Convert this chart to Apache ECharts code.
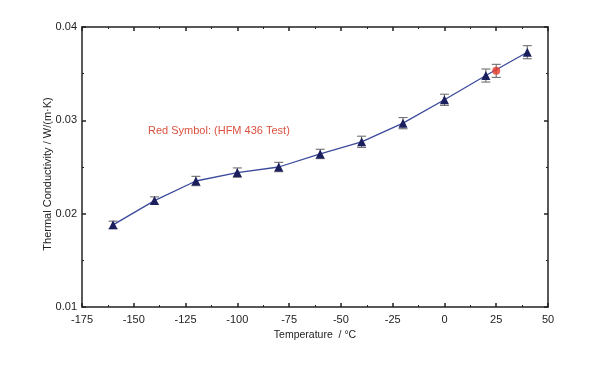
<!DOCTYPE html>
<html><head><meta charset="utf-8">
<script src="https://cdn.jsdelivr.net/npm/echarts@6/dist/echarts.min.js"></script>
<style>html,body{margin:0;padding:0;background:#fff}#c{width:600px;height:369px}</style>
</head><body><div id="c"></div>
<script>
const temps = [-160, -140, -120, -100, -80, -60, -40, -20, 0, 20, 40];
const conductivity = [0.0188, 0.0214, 0.0235, 0.0244, 0.0250, 0.0264, 0.0277, 0.0297, 0.0322, 0.0348, 0.0373];
const errors = [0.0004, 0.0004, 0.0005, 0.0005, 0.0005, 0.0005, 0.0006, 0.0006, 0.0006, 0.0007, 0.0007];
const hfmTemp = [25];
const hfmValue = [0.0353];
const hfmError = [0.0007];
const annotation = 'Red Symbol: (HFM 436 Test)';
const xTitle = 'Temperature  / °C';
const yTitle = 'Thermal Conductivity / W/(m·K)';

const font = 'Liberation Sans, Arial, sans-serif';
const chart = echarts.init(document.getElementById('c'));

const errData = temps.map((t, i) => [t, conductivity[i] - errors[i], conductivity[i] + errors[i]])
  .concat(hfmTemp.map((t, i) => [t, hfmValue[i] - hfmError[i], hfmValue[i] + hfmError[i]]));

function errRender(params, api) {
  const x = api.value(0);
  const lo = api.coord([x, api.value(1)]);
  const hi = api.coord([x, api.value(2)]);
  const w = 4.5;
  const st = { stroke: '#6f6f6f', lineWidth: 1.1 };
  return { type: 'group', children: [
    { type: 'line', shape: { x1: lo[0], y1: lo[1], x2: hi[0], y2: hi[1] }, style: st },
    { type: 'line', shape: { x1: lo[0] - w, y1: lo[1], x2: lo[0] + w, y2: lo[1] }, style: st },
    { type: 'line', shape: { x1: hi[0] - w, y1: hi[1], x2: hi[0] + w, y2: hi[1] }, style: st }
  ]};
}

const axisLine = { show: true, onZero: false, lineStyle: { color: '#222', width: 1.5 } };
const tick = { inside: true, length: 4, lineStyle: { color: '#222', width: 1.5 } };
const minor = { show: true, splitNumber: 2, length: 2, lineStyle: { color: '#222' } };
chart.setOption({
  animation: false,
  backgroundColor: '#fff',
  grid: { left: 82, right: 52, top: 27, bottom: 62 },
  xAxis: [{
    type: 'value', min: -175, max: 50, interval: 25, position: 'bottom',
    name: xTitle, nameLocation: 'middle', nameGap: 14,
    nameTextStyle: { fontFamily: font, fontSize: 10.5, color: '#222' },
    axisLine: axisLine, axisTick: tick, minorTick: minor,
    axisLabel: { fontFamily: font, fontSize: 11, color: '#222', margin: 7 },
    splitLine: { show: false }
  }, {
    type: 'value', min: -175, max: 50, interval: 25, position: 'top',
    axisLine: axisLine, axisTick: tick, minorTick: minor,
    axisLabel: { show: false }, splitLine: { show: false }
  }],
  yAxis: [{
    type: 'value', min: 0.01, max: 0.04, interval: 0.01, position: 'left',
    axisLine: axisLine, axisTick: tick, minorTick: minor,
    axisLabel: { fontFamily: font, fontSize: 11, color: '#222', margin: 5, formatter: v => v.toFixed(2) },
    splitLine: { show: false }
  }, {
    type: 'value', min: 0.01, max: 0.04, interval: 0.01, position: 'right',
    axisLine: axisLine, axisTick: tick, minorTick: minor,
    axisLabel: { show: false }, splitLine: { show: false }
  }],
  graphic: [{
    type: 'text', left: 148, top: 125,
    style: { text: annotation, fill: '#d9513f', font: '11px ' + font }
  }, {
    type: 'text', x: 47.5, y: 174, rotation: Math.PI / 2,
    style: { text: yTitle, fill: '#222', font: '11px ' + font, align: 'center', verticalAlign: 'middle' }
  }],
  series: [{
    type: 'custom', renderItem: errRender, data: errData, z: 1,
    encode: { x: 0, y: [1, 2] }
  }, {
    type: 'line', data: temps.map((t, i) => [t, conductivity[i]]), z: 2,
    symbol: 'triangle', symbolSize: 9,
    lineStyle: { color: '#3b4a9c', width: 1.3 },
    itemStyle: { color: '#1c1f5e' }
  }, {
    type: 'scatter', data: hfmTemp.map((t, i) => [t, hfmValue[i]]), z: 3,
    symbol: 'circle', symbolSize: 8,
    itemStyle: { color: '#e8392b' }
  }]
});
</script></body></html>
